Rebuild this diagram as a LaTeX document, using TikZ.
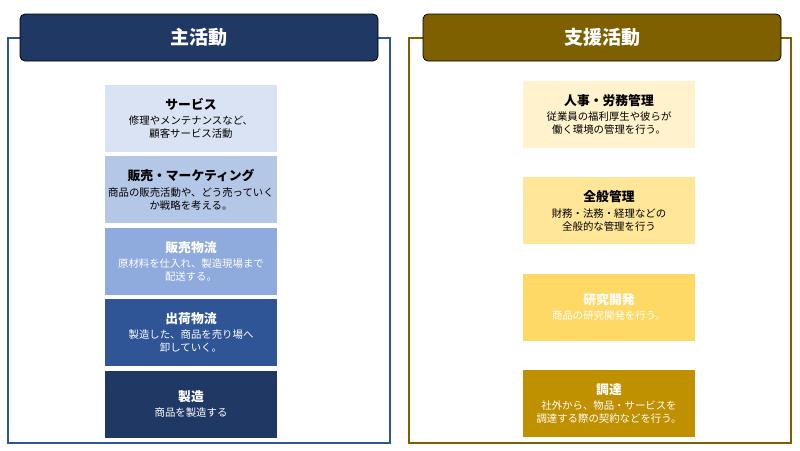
\documentclass[tikz,border=0pt]{standalone}
\usepackage{fontspec}
\setmainfont{Noto Sans CJK JP}
\usepackage{xcolor}
\definecolor{mainnavy}{HTML}{203864}
\definecolor{mainblue}{HTML}{2F5597}
\definecolor{mainmid}{HTML}{8FAADC}
\definecolor{mainlight}{HTML}{B4C7E7}
\definecolor{mainpale}{HTML}{DAE3F3}
\definecolor{supbrown}{HTML}{7F6000}
\definecolor{supgold}{HTML}{BF9000}
\definecolor{supmid}{HTML}{FFD966}
\definecolor{suplight}{HTML}{FFE699}
\definecolor{suppale}{HTML}{FFF2CC}
\usetikzlibrary{positioning}

\begin{document}
\begin{tikzpicture}[x=1pt, y=1pt,
  node distance=4pt,
  actbox/.style={rectangle, minimum width=172pt, minimum height=67pt, inner sep=1pt,
               align=center, font=\fontsize{10.4}{13.2}\selectfont},
  headbox/.style={rectangle, rounded corners=5pt, draw=black, line width=0.8pt,
               minimum width=358pt, minimum height=47pt, text=white,
               font=\fontsize{19}{21}\selectfont\bfseries},
  frame/.style={line width=2.4pt}
]
\useasboundingbox (0,0) rectangle (800,-450);
\draw[frame, draw=mainblue] (8,-38) rectangle (390,-443);
\draw[frame, draw=supbrown] (409,-38) rectangle (791,-443);
\node[headbox, fill=mainnavy] (mainhead) at (199,-37.5) {主活動};
\node[headbox, fill=supbrown] (suphead) at (602,-37.5) {支援活動};

\node[actbox, fill=mainpale] (service) at (191,-118.5)
  {{\fontsize{12.8}{15}\selectfont\bfseries サービス}\\[2pt]修理やメンテナンスなど、\\顧客サービス活動};
\node[actbox, fill=mainlight, below=of service] (marketing)
  {{\fontsize{12.8}{15}\selectfont\bfseries 販売・マーケティング}\\[2pt]商品の販売活動や、どう売っていく\\か戦略を考える。};
\node[actbox, fill=mainmid, text=white, below=of marketing] (inbound)
  {{\fontsize{12.8}{15}\selectfont\bfseries 販売物流}\\[2pt]原材料を仕入れ、製造現場まで\\配送する。};
\node[actbox, fill=mainblue, text=white, below=of inbound] (outbound)
  {{\fontsize{12.8}{15}\selectfont\bfseries 出荷物流}\\[2pt]製造した、商品を売り場へ\\卸していく。};
\node[actbox, fill=mainnavy, text=white, below=of outbound] (making)
  {{\fontsize{12.8}{15}\selectfont\bfseries 製造}\\[2pt]商品を製造する};

\node[actbox, fill=suppale] (hr) at (609,-114.5)
  {{\fontsize{12.8}{15}\selectfont\bfseries 人事・労務管理}\\[2pt]従業員の福利厚生や彼らが\\働く環境の管理を行う。};
\node[actbox, fill=suplight, below=29pt of hr] (general)
  {{\fontsize{12.8}{15}\selectfont\bfseries 全般管理}\\[2pt]財務・法務・経理などの\\全般的な管理を行う};
\node[actbox, fill=supmid, text=white, below=29pt of general] (research)
  {{\fontsize{12.8}{15}\selectfont\bfseries 研究開発}\\[2pt]商品の研究開発を行う。};
\node[actbox, fill=supgold, text=white, below=29pt of research] (procure)
  {{\fontsize{12.8}{15}\selectfont\bfseries 調達}\\[2pt]社外から、物品・サービスを\\調達する際の契約などを行う。};
\end{tikzpicture}
\end{document}
